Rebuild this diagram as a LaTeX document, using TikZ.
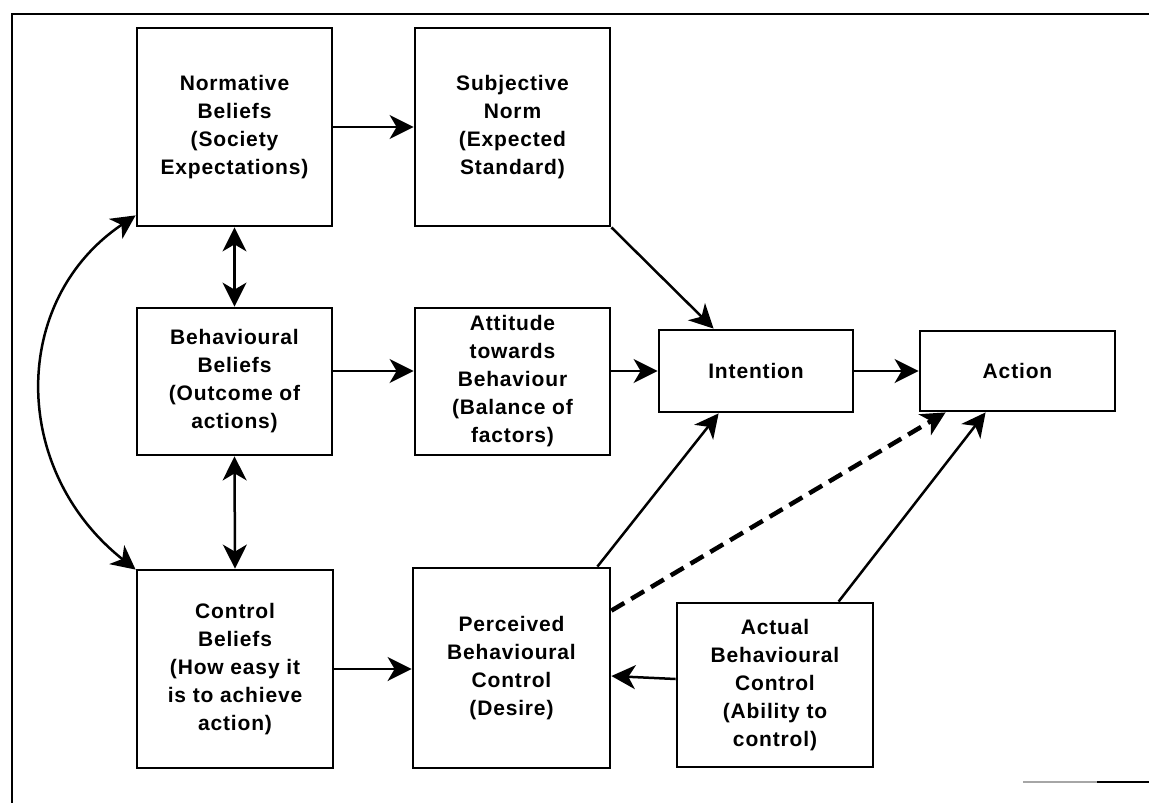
\documentclass[tikz,border=0pt]{standalone}
\usepackage{fontspec}
\setmainfont{Liberation Sans}[LetterSpace=4]
\usetikzlibrary{arrows.meta,calc}
\begin{document}
\begin{tikzpicture}[x=1pt,y=-1pt,
  head/.tip={Stealth[length=24pt,width=24pt,inset=7pt]},
  box/.style={draw, line width=2.8pt, align=center, inner sep=0pt,
    font=\fontsize{21}{28}\selectfont\bfseries},
  link/.style={line width=2.5pt, -head},
  twoway/.style={line width=2.5pt, head-head},
  hint/.style={link, line width=4.5pt, dash pattern=on 15pt off 8pt},
  frame/.style={line width=2.2pt}]
\useasboundingbox (0,0) rectangle (1149,803);

% outer frame
\draw[frame] (12,803) -- (12,14) -- (1149,14);
\draw[line width=1.2pt, black!35] (1023,782) -- (1097,782);
\draw[line width=1.8pt] (1097,782) -- (1149,782);

% boxes
\node[box, minimum width=195, minimum height=198] (nb) at (234.5,127) {Normative\\Beliefs\\(Society\\Expectations)};
\node[box, minimum width=195, minimum height=198] (sn) at (512.5,127) {Subjective\\Norm\\(Expected\\Standard)};
\node[box, minimum width=195, minimum height=147] (bb) at (234.5,381.5) {Behavioural\\Beliefs\\(Outcome of\\actions)};
\node[box, minimum width=195, minimum height=147] (att) at (512.5,381.5) {Attitude\\towards\\Behaviour\\(Balance of\\factors)};
\node[box, minimum width=194, minimum height=82] (int) at (756,371) {Intention};
\node[box, minimum width=195, minimum height=80] (act) at (1017.5,371) {Action};
\node[box, minimum width=196, minimum height=198] (cb) at (235,669) {Control\\Beliefs\\(How easy it\\is to achieve\\action)};
\node[box, minimum width=197, minimum height=200] (pbc) at (511.5,668) {Perceived\\Behavioural\\Control\\(Desire)};
\node[box, minimum width=196, minimum height=164] (abc) at (775,685) {Actual\\Behavioural\\Control\\(Ability to\\control)};

% connectors
\draw[link] (nb.east) -- (sn.west);
\draw[link] (sn.south east) -- ($(int.north west)+(56,0)$);
\draw[twoway] (nb.south) -- (bb.north);
\draw[twoway] (bb.south) -- (cb.north);
\draw[twoway] ($(nb.south west)+(0,-12)$) .. controls (10,300) and (10,470) .. ($(cb.north west)+(0,1)$);
\draw[link] (bb.east |- int.west) -- (att.west |- int.west);
\draw[link] (att.east |- int.west) -- (int.west);
\draw[link] (int.east) -- (act.west |- int.east);
\draw[link] (cb.east) -- (cb.east -| pbc.west);
\draw[link] ($(abc.west)+(0,-6)$) -- ($(pbc.east)+(0,8)$);
\draw[link] ($(pbc.north east)+(-14,0)$) -- ($(int.south west)+(61,0)$);
\draw[hint] ($(pbc.north east)+(0,44)$) -- ($(act.south west)+(27,0)$);
\draw[link] ($(abc.north west)+(163,0)$) -- ($(act.south west)+(67,0)$);
\end{tikzpicture}
\end{document}
